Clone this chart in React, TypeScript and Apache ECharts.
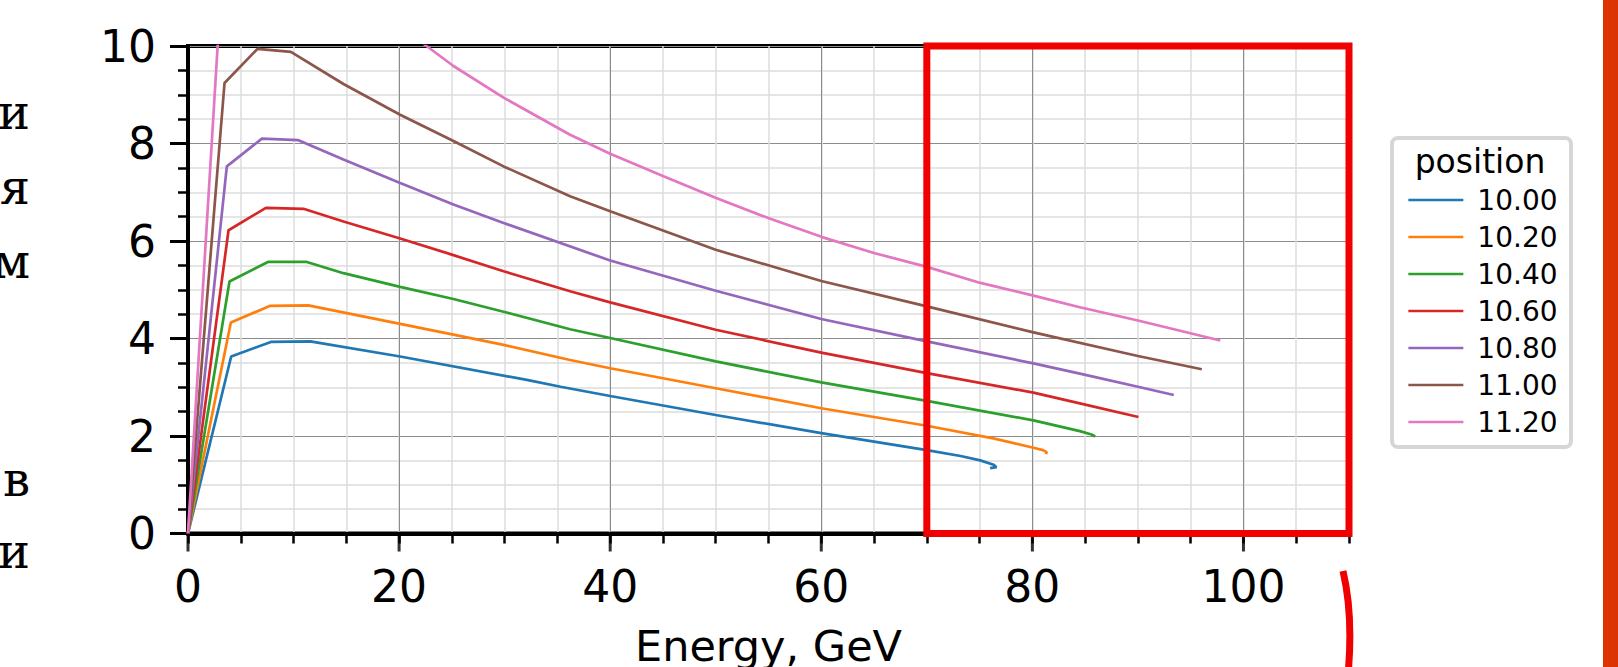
import React, { useEffect, useRef } from "react";
import * as echarts from "echarts";

// legend labels (position) and colours
const positions = ["10.00", "10.20", "10.40", "10.60", "10.80", "11.00", "11.20"];
const colors = ["#1f77b4", "#ff7f0e", "#2ca02c", "#d62728", "#9467bd", "#8c564b", "#e377c2"];

// series: energy (GeV) and value
const energy1000 = [0, 4.09, 7.85, 11.58, 20.1, 32.1, 35.3, 40, 50, 60, 70, 73.2, 75.06, 76.33, 76.6, 76.0];
const value1000 = [0, 3.63, 3.93, 3.94, 3.63, 3.15, 3.01, 2.82, 2.43, 2.06, 1.71, 1.59, 1.5, 1.41, 1.36, 1.34];

const energy1020 = [0, 4.06, 7.79, 11.4, 20.1, 25.15, 29.9, 36.2, 40, 50, 60, 70, 76.3, 80.1, 81.0, 81.35, 81.3];
const value1020 = [0, 4.33, 4.67, 4.68, 4.3, 4.08, 3.87, 3.56, 3.39, 2.98, 2.57, 2.21, 1.95, 1.76, 1.71, 1.67, 1.63];

const energy1040 = [0, 3.93, 7.57, 11.26, 14.73, 20.1, 25.15, 29.9, 36.2, 40, 50, 60, 70, 80.1, 84.5, 85.6, 85.95];
const value1040 = [0, 5.17, 5.57, 5.57, 5.34, 5.06, 4.81, 4.55, 4.19, 4.01, 3.53, 3.1, 2.72, 2.32, 2.1, 2.03, 1.99];

const energy1060 = [0, 3.84, 7.38, 10.94, 14.73, 20.1, 25.15, 29.9, 36.2, 40, 50, 60, 70, 80.1, 84.5, 90.05];
const value1060 = [0, 6.22, 6.68, 6.66, 6.4, 6.05, 5.71, 5.38, 4.97, 4.74, 4.18, 3.71, 3.29, 2.89, 2.67, 2.39];

const energy1080 = [0, 3.68, 7.0, 10.41, 14.73, 20.1, 25.15, 29.9, 40, 50, 60, 70, 80.1, 84.5, 90, 93.4];
const value1080 = [0, 7.53, 8.1, 8.07, 7.67, 7.19, 6.75, 6.37, 5.6, 4.98, 4.4, 3.94, 3.49, 3.28, 3.01, 2.84];

const energy1100 = [0, 3.46, 6.58, 9.75, 14.73, 20.1, 25.15, 29.9, 36.2, 40, 50, 60, 70, 80, 90, 96.05];
const value1100 = [0, 9.24, 9.94, 9.88, 9.22, 8.59, 8.05, 7.53, 6.92, 6.61, 5.82, 5.18, 4.66, 4.13, 3.64, 3.37];

const energy1120 = [0, 3.2, 6.1, 9.0, 22.6, 25.15, 29.9, 36.2, 40, 45.05, 50.04, 55.1, 60.08, 65.07, 70, 75.08, 80.1, 84.5, 90, 97.8];
const value1120 = [0, 11.4, 12.3, 12.2, 10.0, 9.59, 8.94, 8.18, 7.79, 7.33, 6.88, 6.46, 6.08, 5.75, 5.47, 5.14, 4.88, 4.64, 4.37, 3.96];

const energies = [energy1000, energy1020, energy1040, energy1060, energy1080, energy1100, energy1120];
const values = [value1000, value1020, value1040, value1060, value1080, value1100, value1120];

// axis ticks / labels
const xLabelTicks = [0, 20, 40, 60, 80, 100];
const xMajorTicks = [0, 20, 40, 60, 80, 100];

// marked region (data coords)
const boxX = [70, 110];
const boxY = [0, 10];

// text fragments at the left edge
const sideLetters = ["и", "я", "м", "в", "и"];
const sideBaselines = [129, 204, 278, 496, 568];

export default function App() {
  const ref = useRef<HTMLDivElement>(null);

  useEffect(() => {
    if (!ref.current) return;
    const chart = echarts.init(ref.current, null, { renderer: "svg" });
    const font = "DejaVu Sans";

    const lineSeries = positions.map((name, k) => ({
      name,
      type: "line",
      xAxisIndex: 0,
      yAxisIndex: 0,
      data: energies[k].map((e, i) => [e, values[k][i]]),
      symbol: "none",
      showSymbol: false,
      clip: true,
      z: 3,
      color: colors[k],
      lineStyle: { color: colors[k], width: 2.7 },
    }));

    const tickSeries = {
      name: "ticks",
      type: "scatter",
      xAxisIndex: 0,
      yAxisIndex: 0,
      data: xMajorTicks.map((v) => [v, 0]),
      symbol: "rect",
      symbolSize: [3, 18],
      symbolOffset: [0, 9],
      clip: false,
      silent: true,
      z: 6,
      itemStyle: { color: "#000" },
    };

    const option: any = {
      animation: false,
      grid: {
        left: 188,
        top: 46,
        width: 1161,
        height: 487.5,
        show: true,
        borderColor: "#000",
        borderWidth: 4,
        backgroundColor: "transparent",
        outerBoundsMode: "none",
        containLabel: false,
      },
      xAxis: [
        {
          type: "value",
          min: 0,
          max: 110,
          interval: 5,
          position: "bottom",
          axisLine: { show: true, onZero: false, lineStyle: { color: "#000", width: 4 } },
          axisTick: { show: true, length: 10, lineStyle: { color: "#000", width: 2.5 } },
          axisLabel: {
            margin: 31,
            fontSize: 44,
            color: "#000",
            fontFamily: font,
            formatter: (v: number) => (xLabelTicks.indexOf(v) >= 0 ? String(v) : ""),
          },
          splitLine: { show: true, lineStyle: { color: "#dcdcdc", width: 1.5 } },
          name: "Energy, GeV",
          nameLocation: "middle",
          nameGap: 91,
          nameTextStyle: { fontSize: 43, color: "#000", fontFamily: font },
        },
        {
          type: "value",
          min: 0,
          max: 110,
          interval: 20,
          position: "bottom",
          axisLine: { show: false },
          axisTick: { show: false },
          axisLabel: { show: false },
          splitLine: { show: true, lineStyle: { color: "#8c8c8c", width: 1 } },
        },
      ],
      yAxis: {
        type: "value",
        min: 0,
        max: 10,
        interval: 2,
        axisLine: { show: true, onZero: false, lineStyle: { color: "#000", width: 4 } },
        axisTick: { show: true, length: 18, lineStyle: { color: "#000", width: 3 } },
        minorTick: { show: true, splitNumber: 4, length: 10, lineStyle: { color: "#000", width: 2.5 } },
        axisLabel: { margin: 32, fontSize: 44, color: "#000", fontFamily: font },
        splitLine: { show: true, lineStyle: { color: "#8c8c8c", width: 1 } },
        minorSplitLine: { show: true, lineStyle: { color: "#dcdcdc", width: 1.5 } },
      },
      legend: {
        data: positions,
        orient: "vertical",
        left: 1402,
        top: 181,
        itemWidth: 55,
        itemHeight: 26,
        itemGap: 9,
        z: 4,
        itemStyle: { opacity: 0 },
        lineStyle: { width: 2.7 },
        textStyle: { fontSize: 28, lineHeight: 26, color: "#000", fontFamily: font, padding: [0, 0, 0, 9] },
      },
      series: [...lineSeries, tickSeries],
    };
    chart.setOption(option);

    const p1 = chart.convertToPixel({ xAxisIndex: 0, yAxisIndex: 0 }, [boxX[0], boxY[1]]) as number[];
    const p2 = chart.convertToPixel({ xAxisIndex: 0, yAxisIndex: 0 }, [boxX[1], boxY[0]]) as number[];

    const graphics: any[] = [
      {
        type: "rect",
        z: 1,
        shape: { x: 1392, y: 138, width: 179, height: 309, r: 6 },
        style: { fill: "#fff", stroke: "#d6d6d6", lineWidth: 4 },
      },
      {
        type: "text",
        z: 10,
        x: 1480,
        y: 161.5,
        style: { text: "position", fontSize: 33, fontFamily: font, fill: "#000", align: "center", verticalAlign: "middle" },
      },
      {
        type: "rect",
        z: 100,
        shape: { x: p1[0], y: p1[1], width: p2[0] - p1[0], height: p2[1] - p1[1] },
        style: { fill: "none", stroke: "#f00000", lineWidth: 7 },
      },
      {
        type: "bezierCurve",
        z: 100,
        shape: { x1: 1343, y1: 571, cpx1: 1351, cpy1: 605, cpx2: 1352, cpy2: 640, x2: 1347, y2: 685 },
        style: { stroke: "#f00000", lineWidth: 7, fill: "none" },
      },
      {
        type: "rect",
        z: 100,
        shape: { x: 1603, y: 0, width: 15, height: 667 },
        style: { fill: "#dc3300" },
      },
      ...sideLetters.map((ch, i) => ({
        type: "text",
        z: 10,
        x: 30,
        y: sideBaselines[i] - 17,
        style: { text: ch, fontSize: 48, fontFamily: "DejaVu Serif", fill: "#000", align: "right", verticalAlign: "middle" },
      })),
    ];
    chart.setOption({ graphic: graphics });

    return () => chart.dispose();
  }, []);

  return (
    <div
      ref={ref}
      style={{ position: "absolute", left: 0, top: 0, width: 1618, height: 667, background: "#fff" }}
    />
  );
}
